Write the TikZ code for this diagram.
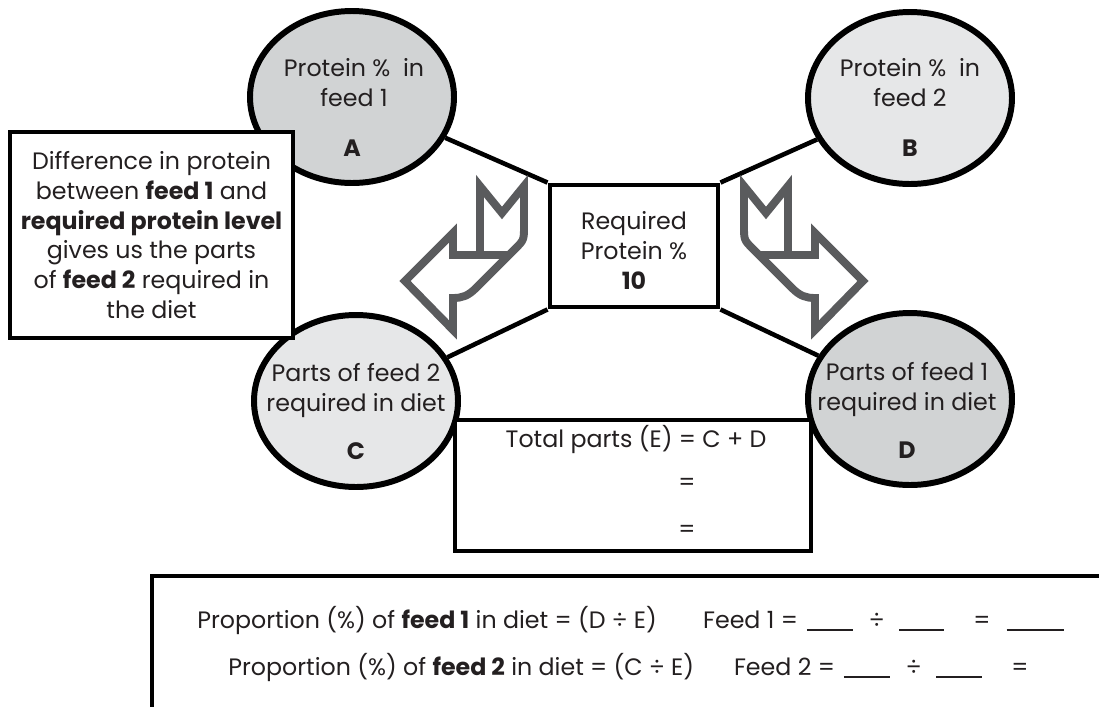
\documentclass[tikz,border=0pt]{standalone}
\usepackage{fontspec}
\setmainfont{Poppins}
\usetikzlibrary{shapes.geometric}
\definecolor{feeddark}{HTML}{D1D3D4}
\definecolor{feedlight}{HTML}{E6E7E8}
\definecolor{foldgrey}{HTML}{5A5B5D}
\definecolor{ink}{HTML}{231F20}
\newcommand{\blank}[1]{\rule[-1.5pt]{#1}{0.9pt}}

\begin{document}
\begin{tikzpicture}[
    x=0.2mm, y=-0.2mm,
    every node/.style={text=ink, font=\fontsize{13.5}{17}\selectfont},
    feed/.style={ellipse, draw, line width=3.4pt, minimum width=40.8mm, minimum height=34.4mm, inner sep=0pt},
    midbox/.style={rectangle, draw, line width=2.8pt, fill=white, minimum width=33.6mm, minimum height=24.4mm},
    notebox/.style={rectangle, draw, line width=2.3pt, fill=white, align=center},
    link/.style={line width=2.6pt},
    fold/.style={draw=foldgrey, line width=4.5pt},
    lbl/.style={anchor=base, align=center, inner sep=0pt},
    tag/.style={anchor=base, inner sep=0pt, font=\fontsize{13.5}{17}\selectfont\bfseries}
]
    \useasboundingbox (0,0) rectangle (1099,706);

    % feeds and parts (lbl sits on the baseline of its last line)
    \node[feed, fill=feeddark] (A) at (352,97) {};
    \node[feed, fill=feedlight] (B) at (910,98) {};
    \node[feed, fill=feedlight] (C) at (356,401) {};
    \node[feed, fill=feeddark] (D) at (910,399) {};

    \node[lbl] (atext) at (354,106) {Protein \%~ in\\feed 1};
    \node[lbl] (btext) at (910,106) {Protein \%~ in\\feed 2};
    \node[lbl] (ctext) at (356,411) {Parts of feed 2\\required in diet};
    \node[lbl] (dtext) at (907,410) {Parts of feed 1\\required in diet};
    \node[tag] (aname) at (352,156) {A};
    \node[tag] (bname) at (910,156) {B};
    \node[tag] (cname) at (356,459) {C};
    \node[tag] (dname) at (907,458) {D};

    % required level in the middle
    \node[midbox] (req) at (634,246) {};
    \node[lbl] (reqtext) at (634,289) {Required\\Protein \%\\\textbf{10}};
    \draw[link] (req.north west) -- (A);
    \draw[link] (req.north east) -- (B);
    \draw[link] (req.south west) -- (C);
    \draw[link] (req.south east) -- (D);

    % note on the left
    \node[notebox, minimum width=56.6mm, minimum height=41.2mm] (diff) at (151.5,235)
        {Difference in protein\\between \textbf{feed 1} and\\\textbf{required protein level}\\gives us the parts\\of \textbf{feed 2} required in\\the diet};

    % total parts
    \node[notebox, minimum width=71.2mm, minimum height=26.2mm] (total) at (633,485.5) {};
    \node[lbl] (totaltxt) at (636,447) {Total parts (E) = C + D};
    \node[lbl] (eqa) at (687,490) {=};
    \node[lbl] (eqb) at (687,537) {=};

    % bent arrows, left one mirrored to the right
    \foreach \side in {1,-1} {
        \begin{scope}[shift={(634,0)}, xscale=\side]
            \draw[fold] (-229,281) -- (-181,233) -- (-181,255) -- (-154,255) -- (-154,186)
                -- (-132,213) -- (-110,186) -- (-110,226) .. controls (-110,240) .. (-119,249)
                -- (-158,288) .. controls (-166,296) and (-172,298) .. (-181,298)
                -- (-181,330) -- cycle;
            \draw[fold] (-154,255) -- (-125,255);
        \end{scope}
    }

    % proportions
    \begin{scope}
        \clip (0,0) rectangle (1099,706);
        \draw[line width=1.8pt] (152,720) |- (1110,576);
    \end{scope}
    \node[lbl, anchor=base west] (prop1) at (197,628) {Proportion (\%) of \textbf{feed 1} in diet = (D ÷ E)};
    \node[lbl, anchor=base east] (calc1) at (1064,628) {Feed 1 =\hspace{1.8mm}\blank{9.2mm}\hspace{3.2mm}÷\hspace{3mm}\blank{9mm}\hspace{5.8mm}=\hspace{3.2mm}\blank{11.4mm}};
    \node[lbl, anchor=base west] (prop2) at (228,675) {Proportion (\%) of \textbf{feed 2} in diet = (C ÷ E)};
    \node[lbl, anchor=base east] (calc2) at (1029,675) {Feed 2 =\hspace{1.8mm}\blank{9.2mm}\hspace{3.2mm}÷\hspace{3mm}\blank{9.2mm}\hspace{5.8mm}=};
\end{tikzpicture}
\end{document}
